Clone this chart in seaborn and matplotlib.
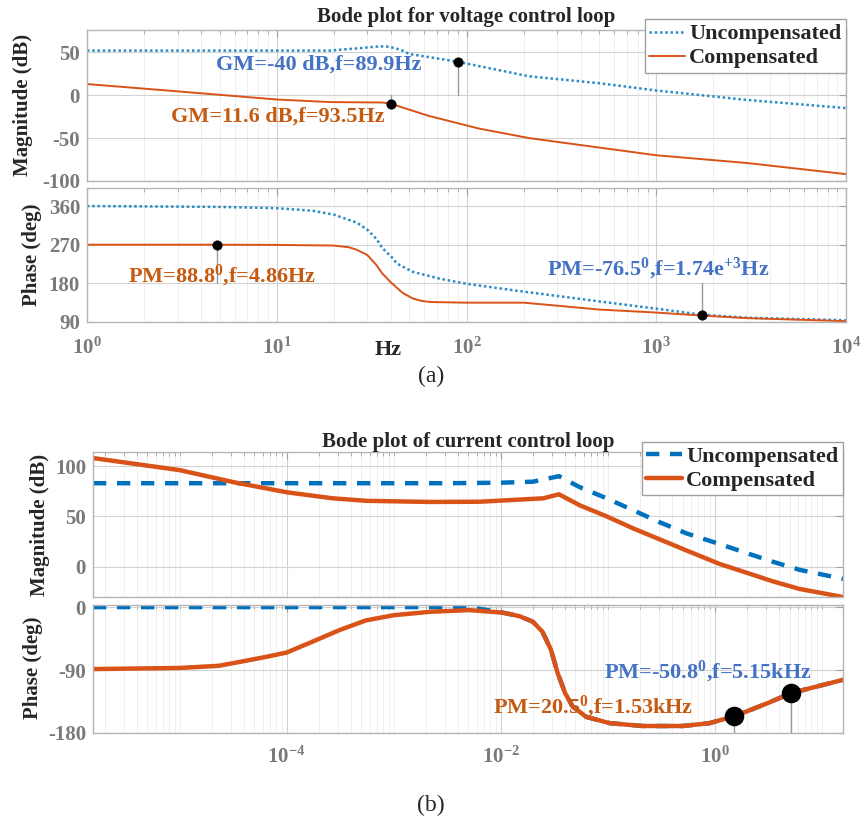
import numpy as np
import matplotlib
matplotlib.use("Agg")
import matplotlib.pyplot as plt
import seaborn as sns
from matplotlib.ticker import FixedLocator, LogLocator, NullFormatter

# ---------------- (a) voltage loop, f in Hz ----------------
a_unc_mag_f = [1, 10, 19, 28, 35, 39, 45, 50, 63, 89.9, 214, 500, 1000, 3000, 10000]
a_unc_mag = [52, 52, 52, 55, 57, 56.5, 53, 48, 44.5, 39, 22, 14, 5.5, -5.5, -15]
a_cmp_mag_f = [1, 3, 10, 19, 36, 40, 63, 117, 214, 500, 1000, 3000, 10000]
a_cmp_mag = [13, 4.5, -5, -8, -8.5, -10, -24, -39, -50, -61, -70, -79, -92]

a_unc_ph_f = [1, 5, 10, 15.5, 20, 26.5, 30, 33.6, 36, 40, 43, 52, 72, 100, 190,
              500, 1000, 1740, 3000, 10000]
a_unc_ph = [360, 358, 355, 349, 340, 321, 305, 283, 262, 243, 226, 207, 191, 179,
            162, 138, 121, 107, 100, 94]
a_cmp_ph_f = [1, 4.86, 10, 20, 24, 26.5, 30, 33.6, 36, 40, 46, 52, 58, 65, 100, 200,
              300, 500, 1000, 1740, 3000, 10000]
a_cmp_ph = [270, 270, 269.5, 268, 264, 258, 246, 222, 203, 182, 158, 145, 139, 136.5,
            135, 135, 128, 119, 112, 105, 99, 92]

# margin markers (frequency, value) and the line their stems drop to
a_gm_f = [89.9, 40]
a_gm_val = [39, -10]
a_gm_base = 0
a_pm_f = [4.86, 1740]
a_pm_val = [270, 107]
a_pm_base = 180

# ---------------- (b) current loop, f in kHz ----------------
b_unc_mag_f = [1.55e-6, 3.2e-3, 0.01, 0.02, 0.035, 0.055, 0.098, 0.174, 0.31, 0.55,
               1.12, 2.0, 3.5, 6.2, 15.8]
b_unc_mag = [83, 83, 83.5, 84.5, 90, 79, 68, 56, 44, 33, 22.5, 13.5, 5, -3, -12]
b_cmp_mag_f = [1.55e-6, 1e-5, 3.2e-5, 1e-4, 2.7e-4, 5.6e-4, 2.2e-3, 6.3e-3, 0.025,
               0.035, 0.055, 0.098, 0.174, 0.31, 0.55, 1.12, 2.0, 3.5, 6.2, 15.8]
b_cmp_mag = [108, 96, 84, 74, 68, 65.5, 64.4, 64.6, 68, 72, 61, 50, 38, 27, 16, 2.7,
             -6, -14.5, -22, -30]

b_ph_f = [1.55e-6, 1e-5, 2.3e-5, 3.2e-5, 6.5e-5, 1e-4, 1.9e-4, 3.1e-4, 5.5e-4, 1e-3,
          2.2e-3, 5.1e-3, 0.0105, 0.015, 0.020, 0.0245, 0.0295, 0.034, 0.040, 0.047,
          0.063, 0.105, 0.214, 0.5, 0.89, 1.53, 3.16, 5.15, 15.8]
b_cmp_ph = [-88.6, -87, -84, -80, -71, -65, -47, -33, -19, -11.6, -6.7, -4.3, -8, -13,
            -21, -35, -61, -94, -123, -142, -157, -166, -170, -170, -166, -156, -137,
            -123, -104]
b_unc_ph_f = [1.55e-6, 5.1e-3, 0.0105, 0.015, 0.020, 0.0245, 0.0295, 0.034, 0.040,
              0.047, 0.063, 0.105, 0.214, 0.5, 0.89, 1.53, 3.16, 5.15, 15.8]
b_unc_ph = [0, 0, -8, -13, -21, -35, -61, -94, -123, -142, -157, -166, -170, -170,
            -166, -156, -137, -123, -104]

b_pm_f = [1.53, 5.15]
b_pm_val = [-156, -123]
b_pm_base = -180

ORANGE = "#D95319"
BLUE_A = "#2a8cc4"
BLUE_B = "#0072BD"
TXT_BLUE = "#4472C4"
TXT_ORANGE = "#C55A11"

sns.set_style("white")
plt.rcParams["font.family"] = ["Liberation Serif", "DejaVu Serif"]
plt.rcParams["font.weight"] = "bold"
plt.rcParams["mathtext.fontset"] = "custom"
plt.rcParams["mathtext.rm"] = "Liberation Serif:bold"
plt.rcParams["mathtext.bf"] = "Liberation Serif:bold"
plt.rcParams["mathtext.it"] = "Liberation Serif:bold:italic"
plt.rcParams["axes.unicode_minus"] = False

W, H = 863, 824
fig = plt.figure(figsize=(W / 100, H / 100), dpi=100)


def rect(l, t, r, b):
    return [l / W, 1 - b / H, (r - l) / W, (b - t) / H]


def style(ax, xlim, ylim, yticks, majors, xlabels, xpad=4):
    ax.set_xscale("log")
    ax.set_xlim(xlim)
    ax.set_ylim(ylim)
    ax.set_yticks(yticks)
    ax.xaxis.set_major_locator(FixedLocator(majors))
    ax.xaxis.set_minor_locator(LogLocator(base=10, subs=np.arange(1, 10), numticks=60))
    ax.xaxis.set_minor_formatter(NullFormatter())
    ax.set_axisbelow(True)
    ax.grid(True, which="major", color="#d2d2d2", lw=0.8)
    ax.grid(True, which="minor", axis="x", color="#ececec", lw=0.6)
    ax.tick_params(which="both", direction="in", top=True, right=True,
                   color="#a0a0a0", labelcolor="#7a7a7a", labelsize=15)
    ax.tick_params(which="major", length=5)
    ax.tick_params(which="minor", length=3)
    ax.tick_params(axis="y", pad=5)
    ax.tick_params(axis="x", pad=xpad)
    if not xlabels:
        ax.tick_params(axis="x", labelbottom=False)
    for s in ax.spines.values():
        s.set_color("#b5b5b5")
        s.set_linewidth(1)
    ax.set_xlabel("")
    ax.set_ylabel("")


def stems(ax, fs, vals, base, size):
    for f, v in zip(fs, vals):
        ax.plot([f, f], [base, v], color="#9a9a9a", lw=1, zorder=3)
    sns.scatterplot(x=fs, y=vals, ax=ax, color="black", s=size, zorder=5,
                    edgecolor="black", legend=False)


def add_legend(ax):
    leg = ax.legend(loc="upper right", bbox_to_anchor=(1.0, 1.07), frameon=True,
                    fancybox=False, framealpha=1, edgecolor="#a0a0a0",
                    prop={"family": "Liberation Serif", "weight": "bold", "size": 16},
                    handlelength=1.6, handletextpad=0.2, borderpad=0.2,
                    labelspacing=0.15, borderaxespad=0)
    leg.get_frame().set_linewidth(1)


# ---------- (a) ----------
ax1 = fig.add_axes(rect(87, 30, 846, 181))
ax2 = fig.add_axes(rect(87, 188, 846, 322))

sns.lineplot(x=a_unc_mag_f, y=a_unc_mag, ax=ax1, color=BLUE_A, lw=1.8,
             linestyle=(0, (1, 1.1)), label="Uncompensated", estimator=None)
sns.lineplot(x=a_cmp_mag_f, y=a_cmp_mag, ax=ax1, color=ORANGE, lw=1.4,
             label="Compensated", estimator=None)
stems(ax1, a_gm_f, a_gm_val, a_gm_base, 45)

sns.lineplot(x=a_unc_ph_f, y=a_unc_ph, ax=ax2, color=BLUE_A, lw=1.8,
             linestyle=(0, (1, 1.1)), estimator=None)
sns.lineplot(x=a_cmp_ph_f, y=a_cmp_ph, ax=ax2, color=ORANGE, lw=1.4, estimator=None)
stems(ax2, a_pm_f, a_pm_val, a_pm_base, 45)

style(ax1, (1, 1e4), (-100, 76), [-100, -50, 0, 50], [1, 10, 100, 1000, 1e4], False)
style(ax2, (1, 1e4), (90, 402), [90, 180, 270, 360], [1, 10, 100, 1000, 1e4], True,
      xpad=11)
add_legend(ax1)

ax1.text(58, 36, "GM=-40 dB,f=89.9Hz", color=TXT_BLUE, fontsize=16, ha="right", va="center")
ax1.text(37, -25, "GM=11.6 dB,f=93.5Hz", color=TXT_ORANGE, fontsize=16, ha="right", va="center")
ax2.text(1.64, 198, r"PM=88.8$^{0}$,f=4.86Hz", color=TXT_ORANGE, fontsize=16, ha="left", va="center")
ax2.text(267, 214, r"PM=-76.5$^{0}$,f=1.74e$^{+3}$Hz", color=TXT_BLUE, fontsize=16,
         ha="left", va="center")

fig.text(466 / W, 1 - 17 / H, "Bode plot for voltage control loop", fontsize=15,
         ha="center", va="center")
fig.text(23 / W, 1 - 105 / H, "Magnitude (dB)", fontsize=15, rotation=90, ha="center", va="center")
fig.text(32 / W, 1 - 255 / H, "Phase (deg)", fontsize=15, rotation=90, ha="center", va="center")
fig.text(388 / W, 1 - 350 / H, "Hz", fontsize=16, ha="center", va="center")
fig.text(431 / W, 1 - 376 / H, "(a)", fontsize=17, weight="normal", ha="center", va="center")

# ---------- (b) ----------
ax3 = fig.add_axes(rect(93, 452, 843, 597))
ax4 = fig.add_axes(rect(93, 605, 843, 733))

sns.lineplot(x=b_unc_mag_f, y=b_unc_mag, ax=ax3, color=BLUE_B, lw=3.2,
             linestyle=(0, (3, 2.4)), label="Uncompensated", estimator=None)
sns.lineplot(x=b_cmp_mag_f, y=b_cmp_mag, ax=ax3, color=ORANGE, lw=3.2,
             label="Compensated", estimator=None)

sns.lineplot(x=b_unc_ph_f, y=b_unc_ph, ax=ax4, color=BLUE_B, lw=3.2,
             linestyle=(0, (3, 2.4)), estimator=None)
sns.lineplot(x=b_ph_f, y=b_cmp_ph, ax=ax4, color=ORANGE, lw=3.2, estimator=None)
stems(ax4, b_pm_f, b_pm_val, b_pm_base, 170)

xl_b = (1.55e-6, 15.8)
style(ax3, xl_b, (-30, 114), [0, 50, 100], [1e-4, 1e-2, 1], False)
style(ax4, xl_b, (-180, 3), [-180, -90, 0], [1e-4, 1e-2, 1], True, xpad=10)
add_legend(ax3)

ax4.text(0.093, -93, r"PM=-50.8$^{0}$,f=5.15kHz", color=TXT_BLUE, fontsize=16,
         ha="left", va="center")
ax4.text(0.0085, -143, r"PM=20.5$^{0}$,f=1.53kHz", color=TXT_ORANGE, fontsize=16,
         ha="left", va="center")

fig.text(468 / W, 1 - 442 / H, "Bode plot of current control loop", fontsize=15,
         ha="center", va="center")
fig.text(40 / W, 1 - 525 / H, "Magnitude (dB)", fontsize=15, rotation=90, ha="center", va="center")
fig.text(33 / W, 1 - 668 / H, "Phase (deg)", fontsize=15, rotation=90, ha="center", va="center")
fig.text(431 / W, 1 - 805 / H, "(b)", fontsize=17, weight="normal", ha="center", va="center")

fig.savefig("out.png", dpi=100)
